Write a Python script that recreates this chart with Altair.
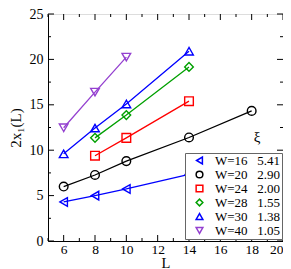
import altair as alt
import pandas as pd

# ---- data ----
widths = [16, 20, 24, 28, 30, 40]
xi_vals = ["5.41", "2.90", "2.00", "1.55", "1.38", "1.05"]
L16 = [6, 8, 10, 14];        Y16 = [4.3, 5.0, 5.73, 7.35]
L20 = [6, 8, 10, 14, 18];    Y20 = [6.0, 7.27, 8.8, 11.4, 14.33]
L24 = [8, 10, 14];           Y24 = [9.39, 11.36, 15.4]
L28 = [8, 10, 14];           Y28 = [11.36, 13.87, 19.17]
L30 = [6, 8, 10, 14];        Y30 = [9.6, 12.44, 15.09, 20.9]
L40 = [6, 8, 10];            Y40 = [12.47, 16.4, 20.25]

x_major = [6, 8, 10, 12, 14, 16, 18, 20]
x_minor = [5, 7, 9, 11, 13, 15, 17, 19]
y_major = [0, 5, 10, 15, 20, 25]
y_minor = [2.5, 7.5, 12.5, 17.5, 22.5]

colors = ["#0000ff", "#000000", "#ff0000", "#00a000", "#0000ff", "#9440d0"]
shapes = ["triangle-left", "circle", "square", "diamond", "triangle-up", "triangle-down"]

series = [(L16, Y16), (L20, Y20), (L24, Y24), (L28, Y28), (L30, Y30), (L40, Y40)]
labels = [f"W={w}\u00a0\u00a0\u00a0{xi}" for w, xi in zip(widths, xi_vals)]
rows = []
for lab, (ls, ys) in zip(labels, series):
    for l, y in zip(ls, ys):
        rows.append({"label": lab, "L": l, "y": y})
df = pd.DataFrame(rows)

W, H = 235, 227
FONT = "Liberation Serif"

xscale = alt.Scale(domain=[5, 20], nice=False, zero=False)
yscale = alt.Scale(domain=[0, 25], nice=False)

legend = alt.Legend(
    title=None, orient="none", legendX=137, legendY=139,
    strokeColor="#666666", fillColor="white", padding=1,
    rowPadding=-1.6, labelFont=FONT, labelFontSize=13, labelColor="black",
    symbolSize=45, symbolStrokeWidth=1.5, symbolOffset=7, labelOffset=9,
    symbolFillColor="transparent",
)

color = alt.Color("label:N", scale=alt.Scale(domain=labels, range=colors), legend=legend)
shape = alt.Shape("label:N", scale=alt.Scale(domain=labels, range=shapes), legend=legend)

xaxis = alt.Axis(values=x_major, title="L", ticks=False, grid=False, labelOverlap=False,
                 labelFont=FONT, labelFontSize=13.5, labelColor="black",
                 labelPadding=1, titleFont=FONT, titleFontSize=14.5, titleColor="black",
                 titleFontWeight="normal", titleY=26, titleBaseline="alphabetic",
                 domainColor="black")
yaxis = alt.Axis(values=y_major, title="2x\u2081(L)", ticks=False, grid=False, labelOverlap=False,
                 labelFont=FONT, labelFontSize=14, labelColor="black",
                 labelPadding=5, titleFont=FONT, titleFontSize=15, titleColor="black",
                 titleFontWeight="normal", titlePadding=6, domainColor="black")

base = alt.Chart(df)
lines = base.mark_line(strokeWidth=1.3).encode(
    x=alt.X("L:Q", scale=xscale, axis=xaxis),
    y=alt.Y("y:Q", scale=yscale, axis=yaxis),
    color=color,
    detail="label:N",
)
points = base.mark_point(filled=False, size=75, strokeWidth=1.4, opacity=1).encode(
    x=alt.X("L:Q", scale=xscale, axis=xaxis), y=alt.Y("y:Q", scale=yscale, axis=yaxis),
    color=color, shape=shape,
)

xmaj = pd.DataFrame({"v": x_major}); xmin = pd.DataFrame({"v": x_minor})
ymaj = pd.DataFrame({"v": y_major}); ymin = pd.DataFrame({"v": y_minor})

def xt(d, n):
    b = alt.Chart(d).mark_rule(color="black", strokeWidth=1)
    return (b.encode(x=alt.X("v:Q", scale=xscale, axis=xaxis), y=alt.value(H), y2=alt.value(H - n))
            + b.encode(x=alt.X("v:Q", scale=xscale, axis=xaxis), y=alt.value(0), y2=alt.value(n)))

def yt(d, n):
    b = alt.Chart(d).mark_rule(color="black", strokeWidth=1)
    return (b.encode(y=alt.Y("v:Q", scale=yscale, axis=yaxis), x=alt.value(0), x2=alt.value(n))
            + b.encode(y=alt.Y("v:Q", scale=yscale, axis=yaxis), x=alt.value(W), x2=alt.value(W - n)))

xi_df = pd.DataFrame({"L": [18.35], "y": [11.5], "t": ["\u03be"]})
xi_text = alt.Chart(xi_df).mark_text(font=FONT, fontSize=15, color="black").encode(
    x=alt.X("L:Q", scale=xscale, axis=xaxis), y=alt.Y("y:Q", scale=yscale, axis=yaxis), text="t:N")

chart = alt.layer(
    lines, points,
    xt(xmaj, 6), xt(xmin, 3), yt(ymaj, 6), yt(ymin, 3),
    xi_text,
).properties(
    width=W, height=H,
    autosize=alt.AutoSizeParams(type="none"),
    padding={"left": 40, "top": 6, "right": 0, "bottom": 28},
).configure_view(stroke="black", strokeWidth=1).configure(background="white"
).configure_axis(labelOverlap=False)

chart.save("out.html", embed_options={"renderer": "svg", "actions": False})
